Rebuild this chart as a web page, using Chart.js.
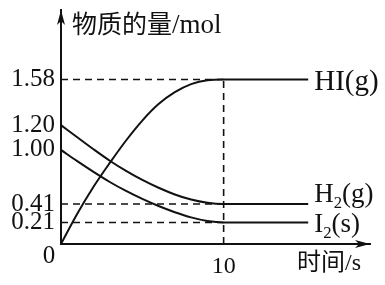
<!DOCTYPE html>
<html>
<head>
<meta charset="utf-8">
<script src="https://cdn.jsdelivr.net/npm/chart.js@4.4.0/dist/chart.umd.min.js"></script>
<style>
  html, body { margin: 0; padding: 0; background: #fff; }
  #wrap { width: 385px; height: 285px; }
</style>
</head>
<body>
<div id="wrap"><canvas id="chart"></canvas></div>
<script>
// time in s, amounts in mol
const times = [0, 1, 2, 3, 4, 5, 6, 7, 8, 9, 10, 15.2];
const hiAmounts = [0, 0.304, 0.598, 0.858, 1.076, 1.238, 1.375, 1.474, 1.541, 1.574, 1.58, 1.58];
const h2Amounts = [1.20, 1.102, 1.005, 0.882, 0.771, 0.672, 0.587, 0.514, 0.458, 0.423, 0.41, 0.41];
const i2Amounts = [1.00, 0.877, 0.760, 0.650, 0.552, 0.465, 0.388, 0.321, 0.265, 0.226, 0.21, 0.21];
const seriesNames = ['HI(g)', 'H2(g)', 'I2(s)'];

const yTickValues = [0.21, 0.41, 1.00, 1.20, 1.58];
const yTickLabels = ['0.21', '0.41', '1.00', '1.20', '1.58'];
const xTickValues = [10];
const xTickLabels = ['10'];

// dashed guide lines
const guideTime = 10;
const guideAmounts = [1.58, 0.41, 0.21];

// the y axis of the figure is not to scale: piecewise mapping value -> fraction of axis height
const yBreakValues = [0, 0.21, 0.41, 1.00, 1.20, 1.58, 2.2];
const yBreakFractions = [0, 0.092, 0.171, 0.402, 0.508, 0.703, 1];

function interp(v, from, to) {
    for (let i = 1; i < from.length; i++) {
        if (v <= from[i] || i === from.length - 1) {
            const a = from[i - 1], b = from[i];
            return to[i - 1] + (v - a) / (b - a) * (to[i] - to[i - 1]);
        }
    }
}

class BrokenScale extends Chart.LinearScale {
    getPixelForValue(value) {
        if (value === null || isNaN(value)) return NaN;
        return this.getPixelForDecimal(interp(value, yBreakValues, yBreakFractions));
    }
    getValueForPixel(pixel) {
        return interp(this.getDecimalForPixel(pixel), yBreakFractions, yBreakValues);
    }
}
BrokenScale.id = 'broken';
BrokenScale.defaults = Chart.LinearScale.defaults;
Chart.register(BrokenScale);

const INK = '#111';
const SERIF = '"Liberation Serif", "Noto Sans CJK SC", serif';

// draw text like H2(g) with the digits as subscripts
function drawChem(ctx, text, x, y, size) {
    for (const ch of text) {
        const sub = /[0-9]/.test(ch);
        const s = sub ? size * 0.62 : size;
        ctx.font = s + 'px ' + SERIF;
        ctx.fillText(ch, x, sub ? y + size * 0.22 : y);
        x += ctx.measureText(ch).width;
    }
}

function drawArrow(ctx, x, y, dx, dy) {
    const len = 15, half = 4, notch = 4;
    const px = -dy, py = dx;
    ctx.beginPath();
    ctx.moveTo(x, y);
    ctx.lineTo(x - dx * len + px * half, y - dy * len + py * half);
    ctx.lineTo(x - dx * (len - notch), y - dy * (len - notch));
    ctx.lineTo(x - dx * len - px * half, y - dy * len - py * half);
    ctx.closePath();
    ctx.fill();
}

const figureText = {
    id: 'figureText',
    afterDraw(chart) {
        const ctx = chart.ctx;
        const area = chart.chartArea;
        const xs = chart.scales.x, ys = chart.scales.y;
        ctx.save();
        ctx.fillStyle = INK;

        // axis arrows
        drawArrow(ctx, area.left, area.top, 0, -1);
        drawArrow(ctx, area.right, area.bottom, 1, 0);

        ctx.textAlign = 'left';
        ctx.textBaseline = 'alphabetic';

        // axis titles
        ctx.font = '25px ' + SERIF;
        ctx.fillText('物质的量', area.left + 11, 33);
        const w = ctx.measureText('物质的量').width;
        ctx.font = '27px ' + SERIF;
        ctx.fillText('/mol', area.left + 11 + w, 33);
        ctx.font = '24px ' + SERIF;
        ctx.fillText('时间/s', 297, 270);

        // origin label
        ctx.textAlign = 'center';
        ctx.font = '25px ' + SERIF;
        ctx.fillText('0', area.left - 12, 263);

        // series labels at the end of each curve
        ctx.textAlign = 'left';
        const ends = [hiAmounts, h2Amounts, i2Amounts].map(a => a[a.length - 1]);
        const offsets = [11, -2, 10];
        const sizes = [29, 27, 27];
        const lastT = times[times.length - 1];
        seriesNames.forEach((name, i) => {
            drawChem(ctx, name, xs.getPixelForValue(lastT) + 6,
                ys.getPixelForValue(ends[i]) + offsets[i], sizes[i]);
        });
        ctx.restore();
    }
};

const curve = (values) => ({
    data: times.map((t, i) => ({ x: t, y: values[i] })),
    borderColor: INK,
    borderWidth: 2,
    pointRadius: 0,
    fill: false,
    cubicInterpolationMode: 'monotone'
});

const dashed = (points) => ({
    data: points,
    borderColor: INK,
    borderWidth: 1.6,
    borderDash: [7, 5],
    pointRadius: 0,
    fill: false
});

const datasets = [curve(hiAmounts), curve(h2Amounts), curve(i2Amounts)];
guideAmounts.forEach(a => datasets.push(dashed([{ x: 0, y: a }, { x: guideTime, y: a }])));
datasets.push(dashed([{ x: guideTime, y: 0 }, { x: guideTime, y: guideAmounts[0] }]));

// keep the plot area fixed: no extra room for half tick labels
const noPad = s => {
    s.paddingTop = 0;
    s.paddingBottom = 0;
    s.paddingLeft = 0;
    s.paddingRight = 0;
};

new Chart(document.getElementById('chart').getContext('2d'), {
    type: 'line',
    data: { datasets: datasets },
    options: {
        responsive: true,
        maintainAspectRatio: false,
        animation: false,
        layout: { padding: { top: 10, right: 15, left: 0, bottom: 0 } },
        plugins: {
            legend: { display: false },
            tooltip: { enabled: false }
        },
        scales: {
            x: {
                type: 'linear',
                min: 0,
                max: 19,
                grid: { display: false, drawTicks: false },
                border: { display: true, color: INK, width: 2 },
                afterBuildTicks: s => { s.ticks = xTickValues.map(v => ({ value: v })); },
                afterFit: s => { s.height = 41; noPad(s); },
                ticks: {
                    autoSkip: false,
                    maxRotation: 0,
                    padding: 8,
                    color: INK,
                    font: { family: SERIF, size: 24 },
                    callback: v => xTickLabels[xTickValues.indexOf(v)]
                }
            },
            y: {
                type: 'broken',
                min: 0,
                max: 2.2,
                grid: { display: false, drawTicks: false },
                border: { display: true, color: INK, width: 2 },
                afterBuildTicks: s => { s.ticks = yTickValues.map(v => ({ value: v })); },
                afterFit: s => { s.width = 61; noPad(s); },
                ticks: {
                    autoSkip: false,
                    padding: 6,
                    color: INK,
                    font: { family: SERIF, size: 25 },
                    callback: v => yTickLabels[yTickValues.indexOf(v)]
                }
            }
        }
    },
    plugins: [figureText]
});
</script>
</body>
</html>
